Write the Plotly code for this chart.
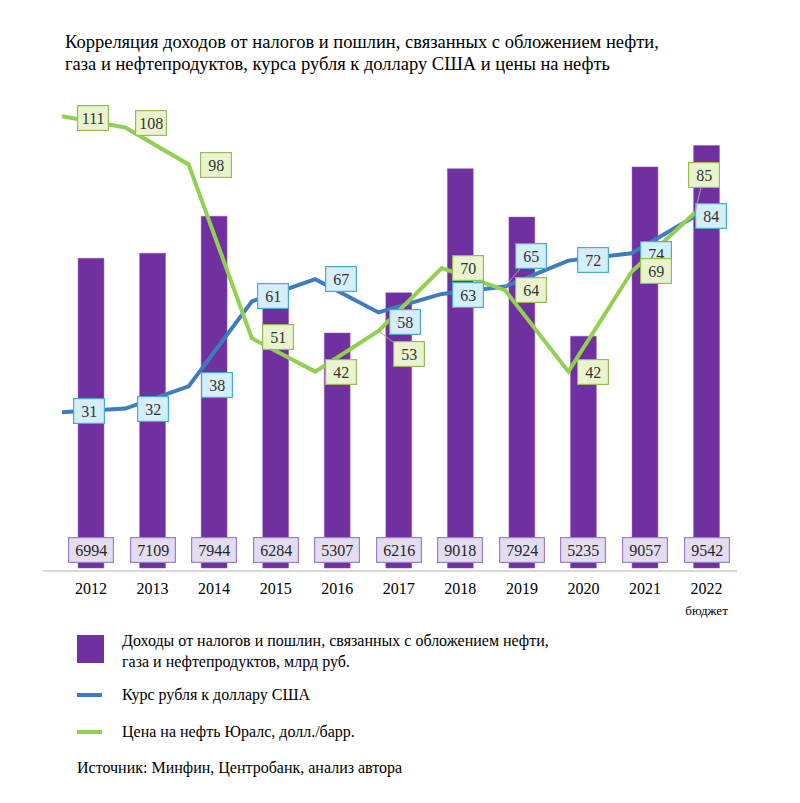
import plotly.graph_objects as go

years = ["2012", "2013", "2014", "2015", "2016", "2017", "2018", "2019", "2020", "2021", "2022"]
tick_labels = ["2012", "2013", "2014", "2015", "2016", "2017", "2018", "2019", "2020", "2021",
               "2022<br><span style='font-size:13px'>бюджет</span>"]
revenue = [6994, 7109, 7944, 6284, 5307, 6216, 9018, 7924, 5235, 9057, 9542]
usd_rate = [31, 32, 38, 61, 67, 58, 63, 65, 72, 74, 84]
urals = [111, 108, 98, 51, 42, 53, 70, 64, 42, 69, 85]

name_rev = "Доходы от налогов и пошлин, связанных с обложением нефти,<br>газа и нефтепродуктов, млрд руб."
name_usd = "Курс рубля к доллару США"
name_oil = "Цена на нефть Юралс, долл./барр."
title_1 = "Корреляция доходов от налогов и пошлин, связанных с обложением нефти,"
title_2 = "газа и нефтепродуктов, курса рубля к доллару США и цены на нефть"
source = "Источник: Минфин, Центробанк, анализ автора"

# label offsets (pixels) relative to the line points: (dx, dy, leader)
usd_off = [(27, -1, 0), (28, 0, 0), (28, -1, 0), (21, -5, 0), (26, 0, 0), (26, 10, 0),
           (26, 1, 0), (26, -31, 1), (25, -1, 0), (24, 1, 0), (16, 0, 0)]
oil_off = [(31, 2, 0), (26, -4, 0), (27, 1, 0), (26, -1, 0), (26, 0, 0), (30, 23, 1),
           (26, 0, 0), (26, 0, 0), (25, 0, 0), (24, -1, 0), (9, -38, 1)]

PAGE = 8  # page body margin offset
W, H = 800, 803
L, R, T, B = 43 - PAGE, 800 - 737 + PAGE, 100 - PAGE, 803 - 570 + PAGE
PW, PH = W - L - R, H - T - B
FONT = "Liberation Serif"

PURPLE = "#7030a0"
BLUE = "#3f7bc1"
GREEN = "#92d050"

idx = list(range(len(years)))

fig = go.Figure()
fig.add_trace(go.Bar(x=idx, y=revenue, marker=dict(color=PURPLE, line=dict(color="#8a5cb8", width=0.5)),
                     width=0.42, xaxis="x", yaxis="y", showlegend=False, hoverinfo="skip"))
fig.add_trace(go.Scatter(x=idx, y=usd_rate, mode="lines", line=dict(color=BLUE, width=4),
                         xaxis="x2", yaxis="y2", showlegend=False, hoverinfo="skip"))
fig.add_trace(go.Scatter(x=idx, y=urals, mode="lines", line=dict(color=GREEN, width=4),
                         xaxis="x2", yaxis="y2", showlegend=False, hoverinfo="skip"))

ann = []
# bar value labels at the base of each bar
for i, v in enumerate(revenue):
    ann.append(dict(x=i, y=0, xref="x", yref="y", text=str(v), showarrow=False, yshift=18,
                    font=dict(family=FONT, size=16, color="#262626"),
                    bgcolor="#e4dcf0", bordercolor="#9c82c4", borderwidth=1.2,
                    width=40, height=20, borderpad=2))

def line_labels(vals, offs, fill, border):
    out = []
    for i, v in enumerate(vals):
        dx, dy, leader = offs[i]
        base = dict(x=i, y=v, xref="x2", yref="y2", text=str(v),
                    font=dict(family=FONT, size=16, color="#333333"),
                    bgcolor=fill, bordercolor=border, borderwidth=1.2,
                    width=26, height=20, borderpad=2)
        if leader:
            base.update(showarrow=True, ax=dx, ay=dy, arrowhead=0, arrowwidth=1,
                        arrowcolor="#a6a6a6", standoff=0)
        else:
            base.update(showarrow=False, xshift=dx, yshift=-dy)
        out.append(base)
    return out

ann += line_labels(usd_rate, usd_off, "#d4eefa", "#4bacc6")
ann += line_labels(urals, oil_off, "#eaf5cf", "#9bbb59")

def px_x(p):
    return (p - PAGE - L) / PW

def px_y(p):
    return (H - B - (p - PAGE)) / PH

txt_font = dict(family=FONT, size=16, color="#000000")
title_font = dict(family=FONT, size=18.5, color="#000000")
ann.append(dict(x=px_x(63), y=px_y(42), xref="paper", yref="paper", text=title_1, showarrow=False,
                xanchor="left", yanchor="middle", align="left", font=title_font))
ann.append(dict(x=px_x(63), y=px_y(64), xref="paper", yref="paper", text=title_2, showarrow=False,
                xanchor="left", yanchor="middle", align="left", font=title_font))
ann.append(dict(x=px_x(120), y=px_y(651), xref="paper", yref="paper", text=name_rev, showarrow=False,
                xanchor="left", yanchor="middle", align="left", font=txt_font))
ann.append(dict(x=px_x(120), y=px_y(695), xref="paper", yref="paper", text=name_usd, showarrow=False,
                xanchor="left", yanchor="middle", align="left", font=txt_font))
ann.append(dict(x=px_x(120), y=px_y(732), xref="paper", yref="paper", text=name_oil, showarrow=False,
                xanchor="left", yanchor="middle", align="left", font=txt_font))
ann.append(dict(x=px_x(75), y=px_y(768), xref="paper", yref="paper", text=source, showarrow=False,
                xanchor="left", yanchor="middle", align="left", font=txt_font))

shapes = [
    dict(type="rect", xref="paper", yref="paper", x0=px_x(77), x1=px_x(104), y0=px_y(663), y1=px_y(635),
         fillcolor=PURPLE, line=dict(width=0)),
    dict(type="line", xref="paper", yref="paper", x0=px_x(77), x1=px_x(102), y0=px_y(695), y1=px_y(695),
         line=dict(color=BLUE, width=4)),
    dict(type="line", xref="paper", yref="paper", x0=px_x(77), x1=px_x(102), y0=px_y(732), y1=px_y(732),
         line=dict(color=GREEN, width=4)),
]

fig.update_layout(
    width=W, height=H,
    margin=dict(l=L, r=R, t=T, b=B, autoexpand=False),
    paper_bgcolor="white", plot_bgcolor="white",
    bargap=0.3,
    xaxis=dict(range=[-0.780, 10.495], tickvals=idx, ticktext=tick_labels, showgrid=False,
               zeroline=False, showline=True, linecolor="#d9d9d9", linewidth=1.5, ticks="",
               ticklabelstandoff=3,
               tickfont=dict(family=FONT, size=16, color="#000000"), fixedrange=True),
    yaxis=dict(range=[-45, 10569], visible=False, showgrid=False, zeroline=False),
    xaxis2=dict(range=[-0.3002, 10.6635], overlaying="x", visible=False, showgrid=False, zeroline=False),
    yaxis2=dict(range=[-11.62, 115.41], overlaying="y", visible=False, showgrid=False, zeroline=False),
    annotations=ann,
    shapes=shapes,
    font=dict(family=FONT),
)

fig.write_html("out.html")
